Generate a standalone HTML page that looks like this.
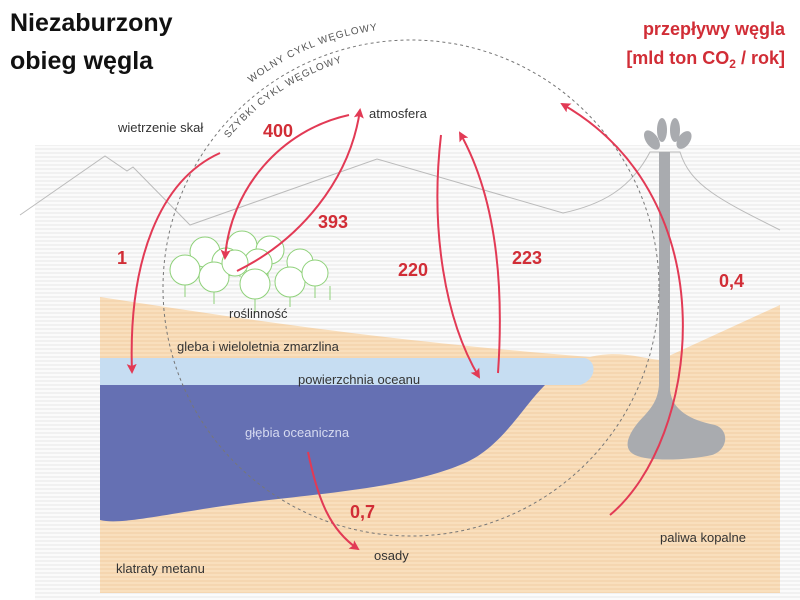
<!DOCTYPE html>
<html><head><meta charset="utf-8"><style>
html,body{margin:0;padding:0;background:#fff;}
svg{display:block;}
text{font-family:"Liberation Sans",sans-serif;}
</style></head><body>
<svg width="800" height="600" viewBox="0 0 800 600" xmlns="http://www.w3.org/2000/svg">
<defs>
<pattern id="st" width="4" height="4" patternUnits="userSpaceOnUse"><rect width="4" height="2" fill="#f1f1f1"/><rect y="2" width="4" height="2" fill="#fbfbfb"/></pattern>
<pattern id="sand" width="4" height="4" patternUnits="userSpaceOnUse"><rect width="4" height="2" fill="#f5d6b0"/><rect y="2" width="4" height="2" fill="#f9dfbd"/></pattern>
<marker id="ah" viewBox="0 0 10 10" refX="8" refY="5" markerWidth="5" markerHeight="5" orient="auto"><path d="M0,0 L10,5 L0,10 L2,5 z" fill="#e23a55"/></marker>
<path id="outer" d="M151,288 A260,260 0 0,1 671,288"/>
<path id="inner" d="M175,288 A236,236 0 0,1 647,288"/>
</defs>
<rect x="35" y="145" width="765" height="455" fill="url(#st)"/>
<path d="M20,215 L105,156 L127,171 L133,167 L190,225 L377,159 L563,213 C600,205 630,190 650,152 L680,152 C690,185 720,200 780,230" fill="none" stroke="#bbb" stroke-width="1"/>
<path d="M100,297 C250,320 380,340 590,357 C620,350 640,358 660,360 L780,305 L780,593 L100,593 Z" fill="url(#sand)"/>
<path d="M100,358 L585,358 C598,362 596,380 580,385 L100,386 Z" fill="#c6ddf2"/>
<path d="M100,385 L545,385 C520,410 500,450 460,465 C400,490 300,495 230,505 C160,515 120,525 100,520 Z" fill="#6570b3"/>
<path d="M659,152 L670,152 L670,390 C672,410 690,420 715,425 C730,430 728,450 712,455 C690,460 650,462 635,455 C620,448 630,430 645,415 C656,403 658,395 659,385 Z" fill="#a9abaf"/>
<g fill="#a9abaf"><ellipse cx="652" cy="140" rx="6" ry="11" transform="rotate(-35 652 140)"/><ellipse cx="662" cy="130" rx="5" ry="12"/><ellipse cx="675" cy="130" rx="5" ry="12"/><ellipse cx="684" cy="140" rx="6" ry="10" transform="rotate(35 684 140)"/></g>
<circle cx="411" cy="288" r="248" fill="none" stroke="#777" stroke-width="1" stroke-dasharray="3,3"/>
<g fill="#fff" stroke="#8fd17a" stroke-width="1">
<path d="M185,285v12M205,270v15M240,262v15M268,265v12M300,278v15M330,286v14"/>
<circle cx="205" cy="252" r="15"/><circle cx="242" cy="246" r="15"/><circle cx="270" cy="250" r="14"/><circle cx="300" cy="262" r="13"/>
<circle cx="226" cy="262" r="14"/><circle cx="258" cy="263" r="14"/>
<circle cx="185" cy="270" r="15"/><circle cx="214" cy="277" r="15"/><circle cx="235" cy="263" r="13"/><circle cx="255" cy="284" r="15"/><circle cx="290" cy="282" r="15"/><circle cx="315" cy="273" r="13"/>
<path d="M214,292v12M255,299v13M290,297v10M315,286v12M185,285v12"/>
</g>
<g fill="none" stroke="#e23a55" stroke-width="2" marker-end="url(#ah)">
<path d="M220,153 C160,180 128,260 132,372"/>
<path d="M349,115 C280,130 230,190 225,258"/>
<path d="M237,271 C300,240 350,180 360,110"/>
<path d="M441,135 C430,230 445,320 479,377"/>
<path d="M498,373 C505,270 492,190 460,133"/>
<path d="M610,515 C700,440 730,200 562,104"/>
<path d="M308,452 C318,500 330,530 358,549"/>
</g>
<g font-size="13" fill="#333">
<text x="118" y="132">wietrzenie skał</text>
<text x="369" y="118">atmosfera</text>
<text x="229" y="318">roślinność</text>
<text x="177" y="351">gleba i wieloletnia zmarzlina</text>
<text x="298" y="384">powierzchnia oceanu</text>
<text x="245" y="437" fill="#d6daf0">głębia oceaniczna</text>
<text x="374" y="560">osady</text>
<text x="116" y="573">klatraty metanu</text>
<text x="660" y="542">paliwa kopalne</text>
</g>
<g font-size="10" fill="#555" letter-spacing="1">
<text><textPath href="#outer" startOffset="236">WOLNY CYKL WĘGLOWY</textPath></text>
<text><textPath href="#inner" startOffset="162">SZYBKI CYKL WĘGLOWY</textPath></text>
</g>
<g font-size="18" font-weight="bold" fill="#d12d36">
<text x="263" y="137">400</text>
<text x="318" y="228">393</text>
<text x="117" y="264">1</text>
<text x="398" y="276">220</text>
<text x="512" y="264">223</text>
<text x="719" y="287">0,4</text>
<text x="350" y="518">0,7</text>
</g>
<g font-size="25" font-weight="bold" fill="#111">
<text x="10" y="31">Niezaburzony</text>
<text x="10" y="69">obieg węgla</text>
</g>
<g font-size="18" font-weight="bold" fill="#d12d36" text-anchor="end">
<text x="785" y="35">przepływy węgla</text>
<text x="785" y="64">[mld ton CO<tspan font-size="12" dy="4">2</tspan><tspan dy="-4"> / rok]</tspan></text>
</g>
</svg>
</body></html>
